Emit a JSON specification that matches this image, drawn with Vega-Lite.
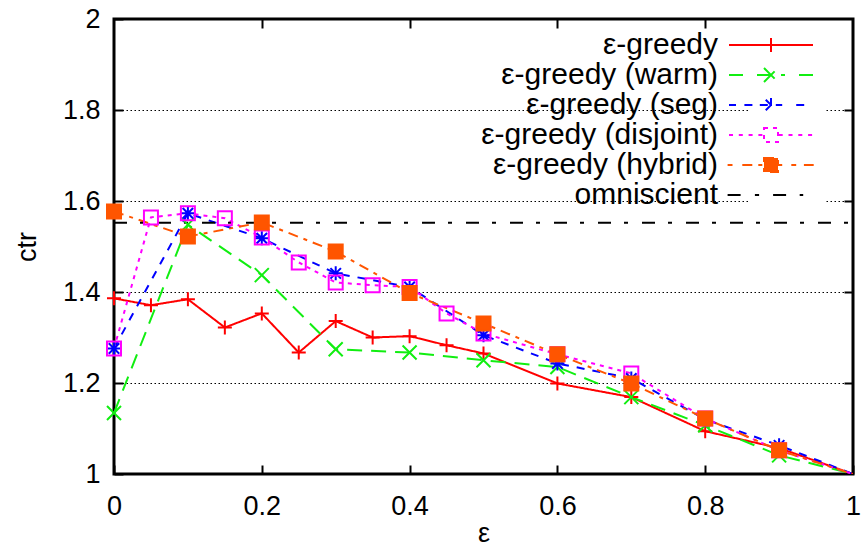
{
  "$schema": "https://vega.github.io/schema/vega-lite/v6.json",
  "width": 739,
  "height": 455,
  "autosize": {"type": "none"},
  "padding": {"left": 114, "top": 19, "right": 8, "bottom": 73},
  "background": "white",
  "config": {"view": {"stroke": "black", "strokeWidth": 3}, "font": "Liberation Sans"},
  "data": {"values": [
    {"series": "ε-greedy", "eps": 0, "ctr": 1.386},
    {"series": "ε-greedy", "eps": 0.05, "ctr": 1.371},
    {"series": "ε-greedy", "eps": 0.1, "ctr": 1.384},
    {"series": "ε-greedy", "eps": 0.15, "ctr": 1.322},
    {"series": "ε-greedy", "eps": 0.2, "ctr": 1.353},
    {"series": "ε-greedy", "eps": 0.25, "ctr": 1.267},
    {"series": "ε-greedy", "eps": 0.3, "ctr": 1.336},
    {"series": "ε-greedy", "eps": 0.35, "ctr": 1.300},
    {"series": "ε-greedy", "eps": 0.4, "ctr": 1.303},
    {"series": "ε-greedy", "eps": 0.45, "ctr": 1.283},
    {"series": "ε-greedy", "eps": 0.5, "ctr": 1.265},
    {"series": "ε-greedy", "eps": 0.6, "ctr": 1.199},
    {"series": "ε-greedy", "eps": 0.7, "ctr": 1.169},
    {"series": "ε-greedy", "eps": 0.8, "ctr": 1.094},
    {"series": "ε-greedy", "eps": 0.9, "ctr": 1.057},
    {"series": "ε-greedy", "eps": 1, "ctr": 1.0},
    {"series": "ε-greedy (warm)", "eps": 0, "ctr": 1.134},
    {"series": "ε-greedy (warm)", "eps": 0.1, "ctr": 1.548},
    {"series": "ε-greedy (warm)", "eps": 0.2, "ctr": 1.437},
    {"series": "ε-greedy (warm)", "eps": 0.3, "ctr": 1.274},
    {"series": "ε-greedy (warm)", "eps": 0.4, "ctr": 1.267},
    {"series": "ε-greedy (warm)", "eps": 0.5, "ctr": 1.250},
    {"series": "ε-greedy (warm)", "eps": 0.6, "ctr": 1.235},
    {"series": "ε-greedy (warm)", "eps": 0.7, "ctr": 1.169},
    {"series": "ε-greedy (warm)", "eps": 0.8, "ctr": 1.107},
    {"series": "ε-greedy (warm)", "eps": 0.9, "ctr": 1.041},
    {"series": "ε-greedy (warm)", "eps": 1, "ctr": 1.0},
    {"series": "ε-greedy (seg)", "eps": 0, "ctr": 1.276},
    {"series": "ε-greedy (seg)", "eps": 0.1, "ctr": 1.573},
    {"series": "ε-greedy (seg)", "eps": 0.2, "ctr": 1.518},
    {"series": "ε-greedy (seg)", "eps": 0.3, "ctr": 1.441},
    {"series": "ε-greedy (seg)", "eps": 0.4, "ctr": 1.411},
    {"series": "ε-greedy (seg)", "eps": 0.5, "ctr": 1.305},
    {"series": "ε-greedy (seg)", "eps": 0.6, "ctr": 1.243},
    {"series": "ε-greedy (seg)", "eps": 0.7, "ctr": 1.210},
    {"series": "ε-greedy (seg)", "eps": 0.8, "ctr": 1.120},
    {"series": "ε-greedy (seg)", "eps": 0.9, "ctr": 1.063},
    {"series": "ε-greedy (seg)", "eps": 1, "ctr": 1.0},
    {"series": "ε-greedy (disjoint)", "eps": 0, "ctr": 1.276},
    {"series": "ε-greedy (disjoint)", "eps": 0.05, "ctr": 1.564},
    {"series": "ε-greedy (disjoint)", "eps": 0.1, "ctr": 1.573},
    {"series": "ε-greedy (disjoint)", "eps": 0.15, "ctr": 1.562},
    {"series": "ε-greedy (disjoint)", "eps": 0.2, "ctr": 1.520},
    {"series": "ε-greedy (disjoint)", "eps": 0.25, "ctr": 1.465},
    {"series": "ε-greedy (disjoint)", "eps": 0.3, "ctr": 1.421},
    {"series": "ε-greedy (disjoint)", "eps": 0.35, "ctr": 1.415},
    {"series": "ε-greedy (disjoint)", "eps": 0.4, "ctr": 1.411},
    {"series": "ε-greedy (disjoint)", "eps": 0.45, "ctr": 1.353},
    {"series": "ε-greedy (disjoint)", "eps": 0.5, "ctr": 1.309},
    {"series": "ε-greedy (disjoint)", "eps": 0.6, "ctr": 1.263},
    {"series": "ε-greedy (disjoint)", "eps": 0.7, "ctr": 1.221},
    {"series": "ε-greedy (disjoint)", "eps": 0.8, "ctr": 1.122},
    {"series": "ε-greedy (disjoint)", "eps": 0.9, "ctr": 1.052},
    {"series": "ε-greedy (disjoint)", "eps": 1, "ctr": 1.0},
    {"series": "ε-greedy (hybrid)", "eps": 0, "ctr": 1.577},
    {"series": "ε-greedy (hybrid)", "eps": 0.1, "ctr": 1.522},
    {"series": "ε-greedy (hybrid)", "eps": 0.2, "ctr": 1.553},
    {"series": "ε-greedy (hybrid)", "eps": 0.3, "ctr": 1.489},
    {"series": "ε-greedy (hybrid)", "eps": 0.4, "ctr": 1.398},
    {"series": "ε-greedy (hybrid)", "eps": 0.5, "ctr": 1.331},
    {"series": "ε-greedy (hybrid)", "eps": 0.6, "ctr": 1.263},
    {"series": "ε-greedy (hybrid)", "eps": 0.7, "ctr": 1.199},
    {"series": "ε-greedy (hybrid)", "eps": 0.8, "ctr": 1.122},
    {"series": "ε-greedy (hybrid)", "eps": 0.9, "ctr": 1.052},
    {"series": "ε-greedy (hybrid)", "eps": 1, "ctr": 1.0},
    {"series": "omniscient", "eps": 0, "ctr": 1.552},
    {"series": "omniscient", "eps": 1, "ctr": 1.552}
  ]},
  "layer": [
    {
      "mark": {"type": "line", "strokeWidth": 2, "clip": true},
      "encoding": {
        "x": {"field": "eps", "type": "quantitative",
          "scale": {"domain": [0, 1], "nice": false, "zero": false},
          "axis": {"values": [0, 0.2, 0.4, 0.6, 0.8, 1], "format": ".1~f", "labelFontSize": 27, "labelFont": "Liberation Sans", "labelColor": "black", "tickSize": -9, "tickWidth": 2, "tickColor": "black", "labelPadding": 28, "domain": false, "grid": false, "labelFlush": false, "labelOverlap": false, "title": "ε", "titleFontSize": 27, "titleFontWeight": "normal", "titleColor": "black", "titleFont": "Liberation Sans", "titleBaseline": "alphabetic", "titleY": 67}},
        "y": {"field": "ctr", "type": "quantitative",
          "scale": {"domain": [1, 2], "nice": false, "zero": false},
          "axis": {"values": [1, 1.2, 1.4, 1.6, 1.8, 2], "format": ".1~f", "labelFontSize": 27, "labelFont": "Liberation Sans", "labelColor": "black", "tickSize": -9, "tickWidth": 2, "tickColor": "black", "labelPadding": 23, "domain": false, "grid": true, "gridDash": [1.5, 2.5], "gridColor": "black", "gridWidth": 1, "labelFlush": false, "labelOverlap": false, "title": "ctr", "titleFontSize": 27, "titleFontWeight": "normal", "titleColor": "black", "titleFont": "Liberation Sans", "titleBaseline": "alphabetic", "titleAngle": 270, "titleX": -79}},
        "color": {"field": "series", "type": "nominal",
          "scale": {"domain": ["ε-greedy", "ε-greedy (warm)", "ε-greedy (seg)", "ε-greedy (disjoint)", "ε-greedy (hybrid)", "omniscient"],
                    "range": ["#ff0000", "#11ee11", "#0000ff", "#ff00ff", "#ff5500", "#000000"]},
          "legend": {"orient": "none", "legendX": 634, "legendY": 3, "title": null, "labelFontSize": 30, "labelFont": "Liberation Sans", "labelColor": "black", "labelAlign": "right", "labelOffset": -68, "labelLimit": 400, "symbolSize": 196, "symbolStrokeWidth": 2, "rowPadding": 0, "padding": 8, "fillColor": "white",
            "encode": {"symbols": {"update": {
              "shape": {"signal": "datum.value === 'ε-greedy' ? 'M-6,0H6M0,-1V1' : datum.value === 'ε-greedy (warm)' ? 'M-6,0H-4M-2,0H2M4,0H6M-1,-1L1,1M-1,1L1,-1' : datum.value === 'ε-greedy (seg)' ? 'M-6,0H-5M-3.8,0H-2.6M-1.6,0H1.6M3.6,0H4.8M0,-1V1M-0.75,-0.75L0.75,0.75M-0.75,0.75L0.75,-0.75' : datum.value === 'ε-greedy (disjoint)' ? 'M-6,0H-5.3M-4.6,0H-3.9M-3.2,0H-2.5M-1.8,0H-1.1M1.1,0H1.8M2.5,0H3.2M3.9,0H4.6M5.3,0H6M-1,-1H1V1H-1Z' : datum.value === 'ε-greedy (hybrid)' ? 'M-6.2,0H-5.5M-4.1,0H-1M1,0H1.6M2.9,0H3.6M4.7,0H6.1M-1,-1H1V1H-1Z' : 'M-6.2,0H-4.1M-2.3,0H-1.7M0.3,0H2.3M4.1,0H4.6'"},
              "fill": {"signal": "datum.value === 'ε-greedy (hybrid)' ? '#ff5500' : 'transparent'"},
              "strokeDash": {"value": [1, 0]}
            }}}}},
        "strokeDash": {"field": "series", "type": "nominal",
          "scale": {"domain": ["ε-greedy", "ε-greedy (warm)", "ε-greedy (seg)", "ε-greedy (disjoint)", "ε-greedy (hybrid)", "omniscient"],
                    "range": [[1, 0], [15, 9], [8, 8], [4, 5], [10, 6, 4, 6], [13, 13, 4, 14]]},
          "legend": null}
      }
    },
    {
      "transform": [{"filter": "datum.series !== 'omniscient' && datum.eps < 1"}],
      "mark": {"type": "point", "size": 196, "strokeWidth": 2, "opacity": 1, "filled": false},
      "encoding": {
        "x": {"field": "eps", "type": "quantitative",
          "axis": {"orient": "top", "values": [0.2, 0.4, 0.6, 0.8], "labels": false, "tickSize": -9, "tickWidth": 2, "tickColor": "black", "domain": false, "grid": false, "title": null}},
        "y": {"field": "ctr", "type": "quantitative",
          "axis": {"orient": "right", "values": [1.2, 1.4, 1.6, 1.8], "labels": false, "tickSize": -9, "tickWidth": 2, "tickColor": "black", "domain": false, "grid": false, "title": null}},
        "color": {"field": "series", "type": "nominal", "legend": null},
        "shape": {"field": "series", "type": "nominal",
          "scale": {"domain": ["ε-greedy", "ε-greedy (warm)", "ε-greedy (seg)", "ε-greedy (disjoint)", "ε-greedy (hybrid)"],
                    "range": ["M-1,0H1M0,-1V1", "M-1,-1L1,1M-1,1L1,-1", "M-1,0H1M0,-1V1M-0.75,-0.75L0.75,0.75M-0.75,0.75L0.75,-0.75", "M-1,-1H1V1H-1Z", "M-1,-1H1V1H-1Z"]},
          "legend": null},
        "fill": {"condition": {"test": "datum.series === 'ε-greedy (hybrid)'", "value": "#ff5500"}, "value": "transparent"}
      }
    }
  ],
  "resolve": {"axis": {"x": "independent", "y": "independent"}}
}
